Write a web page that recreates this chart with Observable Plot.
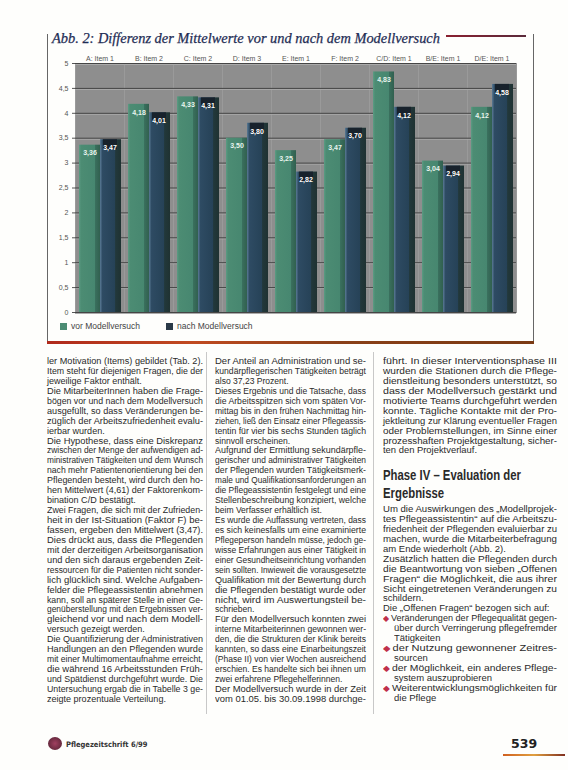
<!DOCTYPE html>
<html><head><meta charset="utf-8">
<script src="https://cdn.jsdelivr.net/npm/d3@7"></script>
<script src="https://cdn.jsdelivr.net/npm/@observablehq/plot@0.6"></script>
<style>
body{margin:0;background:#fff;}
#page{position:relative;width:568px;height:770px;overflow:hidden;background:#fefefc;font-family:"Liberation Sans",Arial,sans-serif;color:#2a2a2a;}
.abs{position:absolute;}
#title{left:52px;top:30px;font-family:"Liberation Serif","DejaVu Serif",serif;font-style:italic;font-size:14.4px;color:#1f2d55;white-space:nowrap;-webkit-text-stroke:0.25px #1f2d55;}
#frame{left:47px;top:34px;width:485px;height:307px;border-left:1px solid #666;border-right:1px solid #666;}
#titleRule{left:446px;top:35px;width:80px;height:2px;background:linear-gradient(90deg,#8a2030,#5a2a3a);}
#bottomRule{left:47px;top:341px;width:487px;height:3px;background:linear-gradient(90deg,#b02a1c,#c04a20 30%,#8a4018 60%,#7a3a14);}
#chart{left:47px;top:48px;}
#legend{left:60px;top:321px;font-size:8.5px;color:#444;display:flex;gap:26px;}
#legend span.sw{display:inline-block;width:7px;height:7px;margin-right:4px;vertical-align:-1px;}
.col{position:absolute;top:357px;font-size:9.2px;line-height:9.95px;}
.col div{white-space:nowrap;height:9.95px;}
.col div span.t{display:inline-block;transform-origin:0 50%;}
.sep{position:absolute;top:352px;width:1px;height:362px;background:#c8c8c8;}
#heading{left:383px;top:466px;font-family:"Liberation Sans",Arial,sans-serif;font-weight:bold;font-size:15.5px;line-height:18px;color:#2a2a2a;}
#heading span{display:inline-block;transform-origin:0 50%;white-space:nowrap;}
.bul{color:#c0304a;font-size:8px;margin-right:2px;}
#footerText{left:66px;top:740px;font-family:"DejaVu Sans Condensed",sans-serif;font-weight:bold;font-size:7.5px;color:#333;}
#logo{left:48px;top:737px;width:14px;height:13px;border-radius:50%;background:radial-gradient(circle,#a04060,#502030);}
#pageNo{left:511px;top:736px;font-family:"DejaVu Sans",sans-serif;font-weight:bold;font-size:12.5px;color:#222;}
#pageRule{left:503px;top:754px;width:62px;height:2px;background:linear-gradient(90deg,#d06020,#e0a040,#803020);}
</style></head><body><div id="page">
<div id="title" class="abs">Abb. 2: Differenz der Mittelwerte vor und nach dem Modellversuch</div>
<div id="titleRule" class="abs"></div>
<div id="frame" class="abs"></div>
<div id="chart" class="abs"></div>
<div id="legend" class="abs"></div>
<div id="bottomRule" class="abs"></div>
<div class="sep" style="left:206px"></div>
<div class="sep" style="left:373px"></div>
<div id="col1" class="col" style="left:47px;width:156px"></div>
<div id="col2" class="col" style="left:215px;width:151px"></div>
<div id="col3a" class="col" style="left:383px;width:174px"></div>
<div id="heading" class="abs"><span>Phase IV – Evaluation der</span><br><span>Ergebnisse</span></div>
<div id="col3b" class="col" style="left:383px;width:174px;top:505px"></div>
<div id="logo" class="abs"></div>
<div id="footerText" class="abs">Pflegezeitschrift 6/99</div>
<div id="pageNo" class="abs">539</div>
<div id="pageRule" class="abs"></div>
</div>
<script>
// ---- chart data ----
const categories = ["A: Item 1","B: Item 2","C: Item 2","D: Item 3","E: Item 1","F: Item 2","C/D: Item 1","B/E: Item 1","D/E: Item 1"];
const vorValues  = [3.36, 4.18, 4.33, 3.50, 3.25, 3.47, 4.83, 3.04, 4.12];
const nachValues = [3.47, 4.01, 4.31, 3.80, 2.82, 3.70, 4.12, 2.94, 4.58];
const seriesKeys = ["vor", "nach"];
const seriesLabels = ["vor Modellversuch", "nach Modellversuch"];
const yTicks = [0, 0.5, 1, 1.5, 2, 2.5, 3, 3.5, 4, 4.5, 5];

// ---- body text ----
const col1Lines = [
"ler Motivation (Items) gebildet (Tab. 2).","Item steht für diejenigen Fragen, die der","jeweilige Faktor enthält.|",
"Die MitarbeiterInnen haben die Frage-","bögen vor und nach dem Modellversuch","ausgefüllt, so dass Veränderungen be-","züglich der Arbeitszufriedenheit evalu-","ierbar wurden.|",
"Die Hypothese, dass eine Diskrepanz","zwischen der Menge der aufwendigen ad-","ministrativen Tätigkeiten und dem Wunsch","nach mehr Patientenorientierung bei den","Pflegenden besteht, wird durch den ho-","hen Mittelwert (4,61) der Faktorenkom-","bination C/D bestätigt.|",
"Zwei Fragen, die sich mit der Zufrieden-","heit in der Ist-Situation (Faktor F) be-","fassen, ergeben den Mittelwert (3,47).","Dies drückt aus, dass die Pflegenden","mit der derzeitigen Arbeitsorganisation","und den sich daraus ergebenden Zeit-","ressourcen für die Patienten nicht sonder-","lich glücklich sind. Welche Aufgaben-","felder die Pflegeassistentin abnehmen","kann, soll an späterer Stelle in einer Ge-","genüberstellung mit den Ergebnissen ver-","gleichend vor und nach dem Modell-","versuch gezeigt werden.|",
"Die Quantifizierung der Administrativen","Handlungen an den Pflegenden wurde","mit einer Multimomentaufnahme erreicht,","die während 16 Arbeitsstunden Früh-","und Spätdienst durchgeführt wurde. Die","Untersuchung ergab die in Tabelle 3 ge-","zeigte prozentuale Verteilung.|"];
const col2Lines = [
"Der Anteil an Administration und se-","kundärpflegerischen Tätigkeiten beträgt","also 37,23 Prozent.|",
"Dieses Ergebnis und die Tatsache, dass","die Arbeitsspitzen sich vom späten Vor-","mittag bis in den frühen Nachmittag hin-","ziehen, ließ den Einsatz einer Pflegeassis-","tentin für vier bis sechs Stunden täglich","sinnvoll erscheinen.|",
"Aufgrund der Ermittlung sekundärpfle-","gerischer und administrativer Tätigkeiten","der Pflegenden wurden Tätigkeitsmerk-","male und Qualifikationsanforderungen an","die Pflegeassistentin festgelegt und eine","Stellenbeschreibung konzipiert, welche","beim Verfasser erhältlich ist.|",
"Es wurde die Auffassung vertreten, dass","es sich keinesfalls um eine examinierte","Pflegeperson handeln müsse, jedoch ge-","wisse Erfahrungen aus einer Tätigkeit in","einer Gesundheitseinrichtung vorhanden","sein sollten. Inwieweit die vorausgesetzte","Qualifikation mit der Bewertung durch","die Pflegenden bestätigt wurde oder","nicht, wird im Auswertungsteil be-","schrieben.|",
"Für den Modellversuch konnten zwei","interne Mitarbeiterinnen gewonnen wer-","den, die die Strukturen der Klinik bereits","kannten, so dass eine Einarbeitungszeit","(Phase II) von vier Wochen ausreichend","erschien. Es handelte sich bei ihnen um","zwei erfahrene Pflegehelferinnen.|",
"Der Modellversuch wurde in der Zeit","vom 01.05. bis 30.09.1998 durchge-"];
const col3aLines = [
"führt. In dieser Interventionsphase III","wurden die Stationen durch die Pflege-","dienstleitung besonders unterstützt, so","dass der Modellversuch gestärkt und","motivierte Teams durchgeführt werden","konnte. Tägliche Kontakte mit der Pro-","jektleitung zur Klärung eventueller Fragen","oder Problemstellungen, im Sinne einer","prozesshaften Projektgestaltung, sicher-","ten den Projektverlauf.|"];
const col3bLines = [
"Um die Auswirkungen des „Modellprojek-","tes Pflegeassistentin“ auf die Arbeitszu-","friedenheit der Pflegenden evaluierbar zu","machen, wurde die Mitarbeiterbefragung","am Ende wiederholt (Abb. 2).|",
"Zusätzlich hatten die Pflegenden durch","die Beantwortung von sieben „Offenen","Fragen“ die Möglichkeit, die aus ihrer","Sicht eingetretenen Veränderungen zu","schildern.|",
"Die „Offenen Fragen“ bezogen sich auf:|",
"•Veränderungen der Pflegequalität gegen-","   über durch Verringerung pflegefremder","   Tätigkeiten|",
"•der Nutzung gewonnener Zeitres-","   sourcen|",
"•der Möglichkeit, ein anderes Pflege-","   system auszuprobieren|",
"•Weiterentwicklungsmöglichkeiten für","   die Pflege|"];

function fillCol(id, lines){
  const el = document.getElementById(id);
  const colW = parseFloat(el.style.width);
  const items = [];
  lines.forEach(l => {
    const d = document.createElement("div");
    const s = document.createElement("span");
    s.className = "t";
    let t = l, end = false, pad = 0;
    if (t.endsWith("|")) { end = true; t = t.slice(0,-1); }
    if (t.startsWith("•")) {
      s.innerHTML = '<span class="bul">◆</span>' + t.slice(1);
    } else if (t.startsWith("   ")) {
      pad = 11; d.style.paddingLeft = pad + "px"; s.textContent = t.trim();
    } else s.textContent = t;
    d.appendChild(s); el.appendChild(d);
    items.push({s, end, pad});
  });
  const scales = [];
  items.forEach(it => {
    const w = it.s.getBoundingClientRect().width;
    it.w = w;
    if (!it.end) { it.k = (colW - it.pad) / w; scales.push(it.k); }
  });
  const med = d3.median(scales.filter(k => k < 1.05)) || 0.82;
  items.forEach(it => {
    let k = it.end ? med : it.k;
    if (it.end && it.w * k > colW - it.pad) k = (colW - it.pad) / it.w;
    it.s.style.transform = `scaleX(${k})`;
  });
}
fillCol("col1", col1Lines); fillCol("col2", col2Lines);
fillCol("col3a", col3aLines); fillCol("col3b", col3bLines);
(function(){
  const spans = document.querySelectorAll("#heading span");
  const k = 138 / spans[0].getBoundingClientRect().width;
  spans.forEach(s => s.style.transform = `scaleX(${k})`);
})();

// ---- chart ----
const rows = categories.flatMap((c, i) => [
  {cat: c, series: seriesKeys[0], value: vorValues[i]},
  {cat: c, series: seriesKeys[1], value: nachValues[i]}
]);
const vorRows = rows.filter(d => d.series === "vor");
const nachRows = rows.filter(d => d.series === "nach");
const fmt = v => d3.format(".2f")(v).replace(".", ",");

const chart = Plot.plot({
  width: 486, height: 272,
  marginLeft: 25, marginRight: 15, marginTop: 15, marginBottom: 8,
  style: {background: "transparent", fontFamily: "Liberation Sans, Arial, sans-serif", fontSize: "7px", color: "#555"},
  fx: {domain: categories, padding: 0, axis: "top", label: null, tickSize: 0, tickPadding: 3},
  x: {domain: seriesKeys, paddingInner: 0, paddingOuter: 0.13, axis: null},
  y: {domain: [0, 5], ticks: yTicks, tickFormat: d => String(d).replace(".", ","), tickSize: 3, tickPadding: 4, label: null},
  marks: [
    Plot.frame({fill: "#8e8e8e", stroke: "#9a9a9a"}),
    Plot.ruleY(yTicks, {stroke: "#aaaaaa", dy: 1}),
    Plot.ruleY(yTicks, {stroke: "#454545"}),
    Plot.barY(vorRows, {fx: "cat", x: "series", y: "value", fill: "url(#gVor)"}),
    Plot.barY(nachRows, {fx: "cat", x: "series", y: "value", fill: "url(#gNach)"}),
    Plot.barY(nachRows, {fx: "cat", x: "series", y1: d => d.value - 0.2, y2: "value", insetLeft: 3, insetRight: 4, fill: "#18222c"}),
    Plot.text(vorRows, {fx: "cat", x: "series", y: "value", text: d => fmt(d.value), fill: "#e8f4ee", dy: 8, fontSize: 7, fontWeight: "bold"}),
    Plot.text(nachRows, {fx: "cat", x: "series", y: "value", text: d => fmt(d.value), fill: "#ffffff", dy: 8, dx: -1, fontSize: 7, fontWeight: "bold"})
  ]
});
const defs = d3.select(chart).insert("defs", ":first-child");
function grad(id, stops){
  const g = defs.append("linearGradient").attr("id", id).attr("x1", 0).attr("x2", 1).attr("y1", 0).attr("y2", 0);
  stops.forEach(([o, c]) => g.append("stop").attr("offset", o).attr("stop-color", c));
}
grad("gVor", [[0,"#5c9c84"],[0.1,"#4c8c73"],[0.75,"#478770"],[0.77,"#3a705e"],[1,"#31604f"]]);
grad("gNach", [[0,"#5a7a95"],[0.12,"#2e4b63"],[0.72,"#264257"],[0.74,"#22383b"],[1,"#1f3232"]]);
document.getElementById("chart").appendChild(chart);

// ---- legend ----
const legendColors = ["#4c8c73", "#2a3a48"];
const lg = document.getElementById("legend");
seriesLabels.forEach((s, i) => {
  const item = document.createElement("div");
  item.innerHTML = `<span class="sw" style="background:${legendColors[i]}"></span>${s}`;
  lg.appendChild(item);
});
</script>
</body></html>
